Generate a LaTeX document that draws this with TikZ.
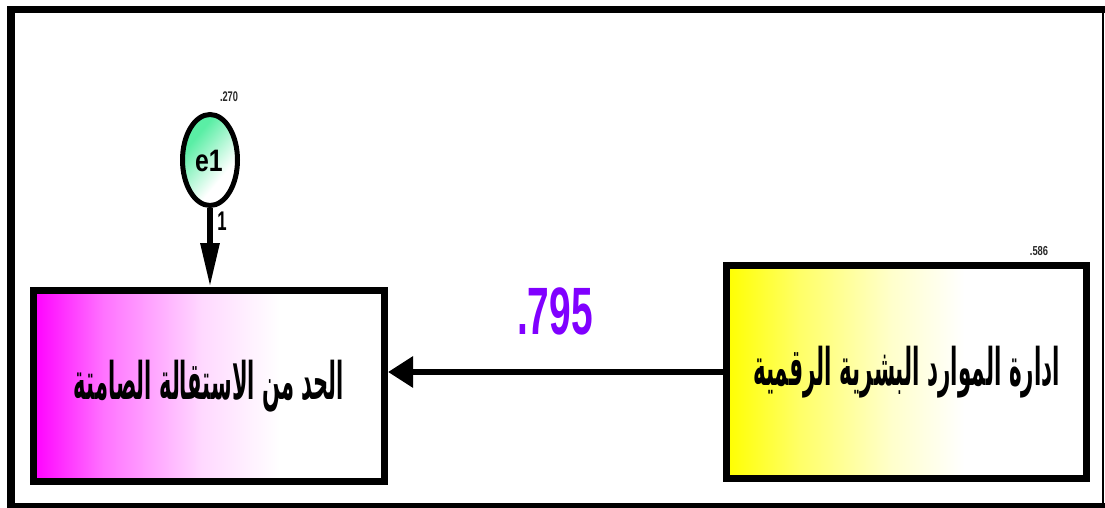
\documentclass[tikz,border=0pt]{standalone}
\usepackage{fontspec}
\usepackage{graphicx}
\setmainfont{Liberation Sans}
\newfontfamily\arabicfont[Script=Arabic]{DejaVu Sans}
\TeXXeTstate=1
\usetikzlibrary{shapes.geometric,arrows.meta}

% horizontal fades used for the box and ellipse fills
% (a shaded path spans 25bp..75bp of the shading)
\pgfdeclarehorizontalshading{magentafade}{100bp}{color(0bp)=(magenta); color(25bp)=(magenta);
  color(35bp)=(magenta!55); color(49bp)=(magenta!15); color(60bp)=(white); color(100bp)=(white)}
\pgfdeclarehorizontalshading{yellowfade}{100bp}{color(0bp)=(yellow); color(25bp)=(yellow);
  color(35bp)=(yellow!60); color(48bp)=(yellow!20); color(58bp)=(white); color(100bp)=(white)}
\definecolor{mint}{RGB}{90,238,165}
\pgfdeclarehorizontalshading{mintfade}{100bp}{color(0bp)=(mint); color(32bp)=(mint); color(64bp)=(white); color(100bp)=(white)}
\definecolor{coefpurple}{RGB}{128,0,255}
\definecolor{smallgray}{RGB}{40,40,40}

\tikzset{
  varbox/.style={draw=black, line width=7pt, shade, rectangle, inner sep=0pt},
  errnode/.style={draw=black, line width=5pt, ellipse, shade, shading=mintfade,
    shading angle=-40, minimum width=55pt, minimum height=91pt, inner sep=0pt},
  patharrow/.style={draw=black, line width=6pt},
  smallnum/.style={text=smallgray, inner sep=0pt, font=\bfseries}
}

\begin{document}
\begin{tikzpicture}[x=1pt,y=-1pt]
\useasboundingbox (0,0) rectangle (1105,508);

% outer frame
\fill[black] (7,6) rectangle (1105,13);
\fill[black] (7,6) rectangle (15,508);
\fill[black] (7,503) rectangle (1105,508);
\fill[black] (1102,6) rectangle (1104,508);

% observed variables
\node[varbox, shading=magentafade, minimum width=351pt, minimum height=191pt]
  (outcome) at (209,386)
  {\resizebox*{270pt}{52pt}{\arabicfont\bfseries\beginR الحد من الاستقالة الصامتة\endR}};
\node[varbox, shading=yellowfade, minimum width=360pt, minimum height=213pt]
  (predictor) at (906.5,372)
  {\resizebox*{307pt}{52pt}{\arabicfont\bfseries\beginR ادارة الموارد البشرية الرقمية\endR}};

% error term
\node[errnode] (e1) at (210,160) {};
\node[inner sep=0pt] (e1label) at (209,161)
  {\scalebox{0.8}[1]{\fontsize{31}{31}\selectfont\bfseries e1}};

% paths
\draw[patharrow, -{Triangle[length=44pt,width=18pt]}] (e1.south) -- (outcome.north -| e1.south);
\draw[patharrow, -{Triangle[length=25pt,width=30pt]}] (predictor.west) -- (predictor.west -| outcome.east);

% coefficients and variances
\node[inner sep=0pt] (fixone) at (222,221)
  {\scalebox{0.62}[1]{\fontsize{27}{27}\selectfont\bfseries 1}};
\node[inner sep=0pt, text=coefpurple] (coef) at (555,311)
  {\scalebox{0.58}[1]{\fontsize{67}{67}\selectfont\bfseries .795}};
\node[smallnum] (vare1) at (229,97)
  {\scalebox{0.66}[1]{\fontsize{14}{14}\selectfont .270}};
\node[smallnum] (varx) at (1039,251)
  {\scalebox{0.72}[1]{\fontsize{13}{13}\selectfont .586}};
\end{tikzpicture}
\end{document}
